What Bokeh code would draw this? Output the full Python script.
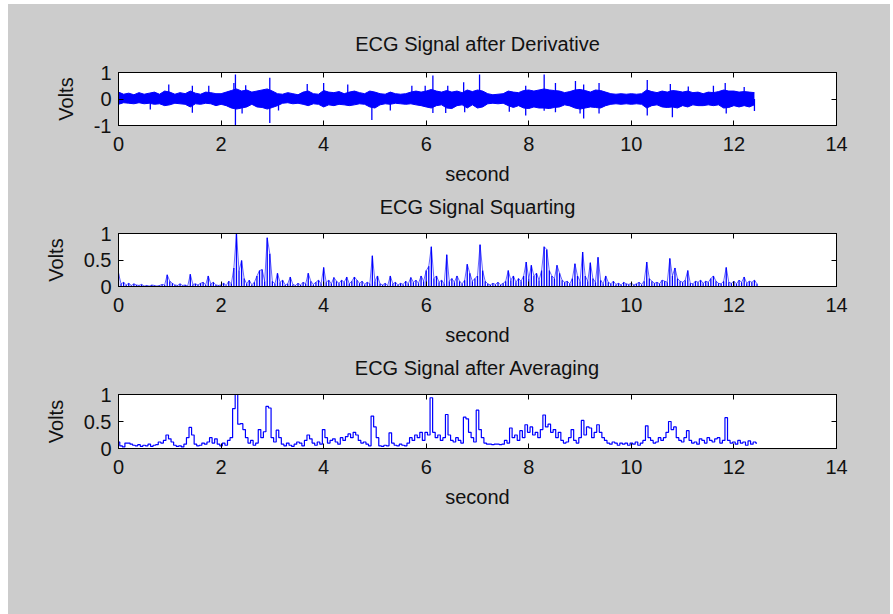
import numpy as np
from bokeh.plotting import figure
from bokeh.layouts import column
from bokeh.models import Range1d, FixedTicker, LinearAxis, CustomLabelingPolicy
from bokeh.embed import file_html
from bokeh.resources import INLINE

# ---------------- data ----------------
DT = 0.05       # sample spacing of the squared / averaged signals (s)
BAND_DT = 0.1   # bin width of the derivative envelope (s)

# derivative: dense band (upper / lower edge per 0.1 s bin)
deriv_band_hi = [0.26, 0.18, 0.22, 0.16, 0.24, 0.18, 0.22, 0.26, 0.18, 0.3,
                 0.26, 0.18, 0.24, 0.2, 0.3, 0.22, 0.18, 0.26, 0.24, 0.2,
                 0.2, 0.26, 0.32, 0.38, 0.3, 0.34, 0.26, 0.3, 0.34, 0.38,
                 0.3, 0.2, 0.18, 0.24, 0.2, 0.16, 0.26, 0.3, 0.2, 0.18,
                 0.32, 0.26, 0.24, 0.28, 0.2, 0.26, 0.3, 0.24, 0.2, 0.3,
                 0.26, 0.2, 0.18, 0.26, 0.2, 0.18, 0.2, 0.26, 0.3, 0.26,
                 0.3, 0.36, 0.3, 0.26, 0.32, 0.26, 0.3, 0.24, 0.34, 0.28,
                 0.34, 0.3, 0.2, 0.16, 0.18, 0.2, 0.3, 0.26, 0.24, 0.32,
                 0.34, 0.3, 0.34, 0.38, 0.34, 0.32, 0.3, 0.24, 0.28, 0.34,
                 0.36, 0.32, 0.26, 0.34, 0.32, 0.26, 0.2, 0.18, 0.2, 0.18,
                 0.2, 0.18, 0.2, 0.34, 0.28, 0.24, 0.3, 0.26, 0.32, 0.3,
                 0.26, 0.3, 0.24, 0.26, 0.2, 0.26, 0.24, 0.28, 0.34, 0.3,
                 0.3, 0.26, 0.28, 0.26, 0.24]
deriv_band_lo = [-0.2, -0.14, -0.16, -0.18, -0.14, -0.18, -0.16, -0.2, -0.18, -0.25,
                 -0.22, -0.16, -0.18, -0.2, -0.3, -0.18, -0.2, -0.16, -0.18, -0.25,
                 -0.2, -0.25, -0.34, -0.38, -0.34, -0.3, -0.2, -0.3, -0.32, -0.38,
                 -0.32, -0.25, -0.16, -0.14, -0.18, -0.16, -0.2, -0.25, -0.18, -0.2,
                 -0.3, -0.22, -0.25, -0.2, -0.22, -0.25, -0.22, -0.18, -0.2, -0.3,
                 -0.34, -0.22, -0.18, -0.2, -0.16, -0.18, -0.2, -0.18, -0.22, -0.25,
                 -0.3, -0.34, -0.25, -0.22, -0.34, -0.36, -0.25, -0.22, -0.34, -0.22,
                 -0.34, -0.3, -0.18, -0.16, -0.18, -0.16, -0.25, -0.32, -0.25, -0.34,
                 -0.36, -0.3, -0.34, -0.34, -0.36, -0.32, -0.3, -0.22, -0.26, -0.34,
                 -0.38, -0.34, -0.3, -0.32, -0.34, -0.25, -0.2, -0.18, -0.2, -0.18,
                 -0.2, -0.18, -0.2, -0.34, -0.25, -0.22, -0.3, -0.32, -0.3, -0.34,
                 -0.25, -0.3, -0.22, -0.25, -0.25, -0.22, -0.25, -0.22, -0.34, -0.32,
                 -0.25, -0.3, -0.25, -0.3, -0.22]

# derivative: isolated spikes (time in s, peak value in V)
spike_t = [0.98, 1.44, 1.76, 2.25, 2.28, 2.48, 2.95, 3.68, 4.0, 4.47,
           5.72, 5.98, 6.13, 6.42, 6.73, 7.04, 7.94, 8.3, 8.52, 8.91,
           9.07, 9.37, 10.31, 10.76, 11.11, 11.6, 11.83, 12.2,
           0.62, 1.44, 2.28, 2.41, 2.95, 3.12, 4.94, 5.3, 6.13, 6.38,
           6.75, 7.62, 7.94, 8.3, 8.52, 9.0, 9.07, 9.37, 10.31, 10.8,
           11.85, 12.4]
spike_v = [0.55, 0.5, 0.5, 0.6, 0.92, 0.52, 0.8, 0.57, 0.6, 0.55,
           0.5, 0.5, 0.89, 0.5, 0.63, 0.92, 0.5, 0.92, 0.6, 0.68,
           0.55, 0.6, 0.72, 0.57, 0.47, 0.5, 0.6, 0.45,
           -0.4, -0.52, -1.0, -0.55, -0.91, -0.43, -0.79, -0.43, -0.53, -0.53,
           -0.5, -0.48, -0.62, -0.44, -0.5, -0.55, -0.74, -0.55, -0.62, -0.69,
           -0.55, -0.45]

squared = [0.25, 0.05, 0.08, 0.03, 0.06, 0.02, 0.05, 0.03, 0.02, 0.04,
           0.01, 0.02, 0.01, 0.03, 0.02, 0.01, 0.02, 0.04, 0.03, 0.22,
           0.1, 0.06, 0.03, 0.02, 0.05, 0.02, 0.03, 0.01, 0.23, 0.04,
           0.05, 0.03, 0.06, 0.08, 0.03, 0.2, 0.05, 0.08, 0.03, 0.02,
           0.03, 0.06, 0.02, 0.1, 0.05, 0.35, 1.0, 0.3, 0.49, 0.15,
           0.05, 0.12, 0.03, 0.08, 0.2, 0.3, 0.32, 0.1, 0.92, 0.62,
           0.1, 0.05, 0.25, 0.08, 0.12, 0.03, 0.05, 0.18, 0.04, 0.02,
           0.06, 0.03, 0.08, 0.05, 0.25, 0.1, 0.04, 0.08, 0.12, 0.05,
           0.36, 0.08, 0.12, 0.05, 0.17, 0.1, 0.06, 0.12, 0.08, 0.18,
           0.05, 0.1, 0.18, 0.12, 0.06, 0.1, 0.04, 0.08, 0.05, 0.58,
           0.1, 0.2, 0.05, 0.03, 0.06, 0.02, 0.2, 0.05, 0.08, 0.03,
           0.06, 0.04, 0.1, 0.05, 0.17, 0.08, 0.12, 0.06, 0.2, 0.1,
           0.3, 0.38, 0.75, 0.15, 0.2, 0.08, 0.12, 0.05, 0.6, 0.1,
           0.15, 0.08, 0.2, 0.1, 0.05, 0.12, 0.42, 0.25, 0.1, 0.15,
           0.2, 0.79, 0.3, 0.1, 0.05, 0.03, 0.06, 0.04, 0.08, 0.03,
           0.06, 0.1, 0.3, 0.12, 0.2, 0.08, 0.15, 0.1, 0.2, 0.46,
           0.15, 0.4, 0.2, 0.25, 0.12, 0.3, 0.75, 0.7, 0.3, 0.2,
           0.15, 0.4, 0.25, 0.12, 0.08, 0.1, 0.05, 0.15, 0.43, 0.2,
           0.1, 0.65, 0.2, 0.1, 0.45, 0.15, 0.08, 0.55, 0.12, 0.05,
           0.2, 0.08, 0.05, 0.1, 0.04, 0.06, 0.03, 0.08, 0.05, 0.04,
           0.06, 0.03, 0.05, 0.08, 0.04, 0.1, 0.46, 0.15, 0.1, 0.06,
           0.08, 0.05, 0.12, 0.1, 0.08, 0.53, 0.2, 0.35, 0.15, 0.1,
           0.08, 0.12, 0.3, 0.06, 0.05, 0.1, 0.08, 0.12, 0.06, 0.1,
           0.08, 0.15, 0.2, 0.1, 0.06, 0.05, 0.1, 0.36, 0.08, 0.06,
           0.1, 0.05, 0.12, 0.08, 0.18, 0.06, 0.1, 0.08, 0.12, 0.05]

averaged = [0.12, 0.05, 0.03, 0.1, 0.1, 0.08, 0.06, 0.05, 0.07, 0.04,
            0.06, 0.05, 0.08, 0.04, 0.06, 0.07, 0.12, 0.1, 0.15, 0.25,
            0.18, 0.12, 0.06, 0.04, 0.05, 0.03, 0.08, 0.2, 0.39, 0.25,
            0.08, 0.05, 0.06, 0.1, 0.08, 0.12, 0.2, 0.1, 0.18, 0.08,
            0.05, 0.1, 0.06, 0.15, 0.2, 0.74, 1.0, 0.45, 0.46, 0.35,
            0.2, 0.1, 0.15, 0.06, 0.1, 0.35, 0.2, 0.31, 0.78, 0.75,
            0.2, 0.12, 0.34, 0.2, 0.08, 0.05, 0.1, 0.06, 0.04, 0.08,
            0.12, 0.1, 0.05, 0.15, 0.25, 0.18, 0.1, 0.06, 0.12, 0.08,
            0.35, 0.2, 0.1, 0.15, 0.18, 0.12, 0.08, 0.2, 0.15, 0.22,
            0.27, 0.2, 0.3, 0.25, 0.15, 0.1, 0.12, 0.08, 0.05, 0.6,
            0.4, 0.2, 0.05, 0.04, 0.06, 0.05, 0.29, 0.1, 0.06, 0.05,
            0.08, 0.06, 0.05, 0.1, 0.2, 0.15, 0.25, 0.2, 0.3, 0.15,
            0.3, 0.25, 0.94, 0.3, 0.2, 0.25, 0.15, 0.2, 0.63, 0.25,
            0.15, 0.12, 0.2, 0.15, 0.1, 0.58, 0.55, 0.3, 0.2, 0.12,
            0.71, 0.35, 0.2, 0.1, 0.08, 0.08, 0.07, 0.08, 0.08, 0.07,
            0.08, 0.15, 0.1, 0.38, 0.2, 0.25, 0.15, 0.33, 0.2, 0.44,
            0.3, 0.4, 0.25, 0.3, 0.2, 0.35, 0.62, 0.4, 0.45, 0.3,
            0.35, 0.2, 0.3, 0.15, 0.1, 0.12, 0.2, 0.35, 0.15, 0.1,
            0.2, 0.52, 0.25, 0.4, 0.38, 0.2, 0.3, 0.44, 0.3, 0.2,
            0.15, 0.1, 0.08, 0.12, 0.1, 0.06, 0.1, 0.08, 0.1, 0.06,
            0.1, 0.08, 0.12, 0.06, 0.1, 0.15, 0.42, 0.2, 0.15, 0.1,
            0.12, 0.2, 0.15, 0.2, 0.3, 0.5, 0.35, 0.4, 0.2, 0.15,
            0.12, 0.2, 0.33, 0.15, 0.1, 0.12, 0.08, 0.18, 0.15, 0.1,
            0.2, 0.15, 0.12, 0.18, 0.2, 0.1, 0.15, 0.57, 0.15, 0.1,
            0.12, 0.08, 0.15, 0.1, 0.12, 0.06, 0.14, 0.08, 0.12, 0.1]

x_ticks = [0, 2, 4, 6, 8, 10, 12, 14]
deriv_yticks = [-1, 0, 1]
pos_yticks = [0, 0.5, 1]
titles = ["ECG Signal after Derivative", "ECG Signal Squarting", "ECG Signal after Averaging"]
x_label = "second"
y_label = "Volts"

# ---------------- sample positions ----------------
t_band = np.arange(len(deriv_band_hi)) * BAND_DT
t_sq = np.arange(len(squared)) * DT
t_av = np.arange(len(averaged)) * DT

FONT = "Liberation Sans"
BG = "#cccccc"
BLUE = "#0000ff"
TXT = "#111111"
W = 882
HIDE_LABELS = CustomLabelingPolicy(code="for (let i = 0; i < indices.size; i++) indices.unset(i)")


def make_fig(title, height, top, bottom, yr, yticks, overrides, standoff):
    p = figure(width=W, height=height, output_backend="svg", toolbar_location=None,
               x_range=Range1d(0, 14), y_range=Range1d(*yr),
               min_border_left=110, min_border_right=W - 110 - 718,
               min_border_top=top, min_border_bottom=bottom,
               background_fill_color="white", border_fill_color=BG)
    p.title.text = title
    p.title.align = "center"
    p.title.text_font = FONT
    p.title.text_font_size = "20px"
    p.title.text_font_style = "normal"
    p.title.text_color = TXT
    p.title.standoff = standoff
    p.outline_line_color = "black"
    p.outline_line_width = 1
    p.outline_line_alpha = 1
    p.grid.visible = False

    for ax in (p.xaxis[0], p.yaxis[0]):
        ax.major_tick_in = 5
        ax.major_tick_out = 0
        ax.minor_tick_in = 0
        ax.minor_tick_out = 0
        ax.major_label_text_font = FONT
        ax.major_label_text_font_size = "20px"
        ax.major_label_text_color = TXT
        ax.axis_label_text_font = FONT
        ax.axis_label_text_font_size = "20px"
        ax.axis_label_text_font_style = "normal"
        ax.axis_label_text_color = TXT
        ax.axis_line_color = "black"
        ax.major_tick_line_color = "black"

    p.xaxis[0].ticker = FixedTicker(ticks=x_ticks)
    p.xaxis[0].axis_label = x_label
    p.xaxis[0].major_label_standoff = 11
    p.xaxis[0].axis_label_standoff = 9
    p.yaxis[0].ticker = FixedTicker(ticks=yticks)
    p.yaxis[0].major_label_overrides = overrides
    p.yaxis[0].axis_label = y_label
    p.yaxis[0].major_label_standoff = 7
    p.yaxis[0].axis_label_standoff = 14

    # mirrored tick marks on top and right (box on), without labels
    top_ax = LinearAxis(ticker=FixedTicker(ticks=x_ticks), major_tick_in=5, major_tick_out=0,
                        minor_tick_in=0, minor_tick_out=0, major_label_standoff=0,
                        major_label_policy=HIDE_LABELS, axis_line_color="black")
    right_ax = LinearAxis(ticker=FixedTicker(ticks=yticks), major_tick_in=5, major_tick_out=0,
                          minor_tick_in=0, minor_tick_out=0, major_label_standoff=0,
                          major_label_policy=HIDE_LABELS, axis_line_color="black")
    p.add_layout(top_ax, "above")
    p.add_layout(right_ax, "right")
    return p


ov_d = {-1: "-1", 0: "0", 1: "1"}
ov_p = {0: "0", 0.5: "0.5", 1: "1"}

# frames: 72-125, 233-286, 394-448 (page px); page offset top = 4
p1 = make_fig(titles[0], 183, 68, 62, (-1, 1), deriv_yticks, ov_d, 13)
p1.varea(x=t_band, y1=deriv_band_lo, y2=deriv_band_hi, fill_color=BLUE)
p1.line(t_band, deriv_band_hi, line_color=BLUE, line_width=1)
p1.line(t_band, deriv_band_lo, line_color=BLUE, line_width=1)
p1.segment(x0=spike_t, y0=[0] * len(spike_t), x1=spike_t, y1=spike_v,
           line_color=BLUE, line_width=1.3)

p2 = make_fig(titles[1], 161, 46, 62, (0, 1), pos_yticks, ov_p, 9)
p2.segment(x0=t_sq, y0=[0] * len(t_sq), x1=t_sq, y1=squared, line_color=BLUE, line_width=1.3)
p2.line(t_sq, squared, line_color=BLUE, line_width=0.6)

p3 = make_fig(titles[2], 266, 46, 166, (0, 1), pos_yticks, ov_p, 9)
p3.step(t_av, averaged, mode="center", line_color=BLUE, line_width=1.2)

layout = column(p1, p2, p3, spacing=0, margin=(4, 3, 0, 8),
                styles={"background-color": BG})

open("out.html", "w").write(file_html(layout, INLINE))
